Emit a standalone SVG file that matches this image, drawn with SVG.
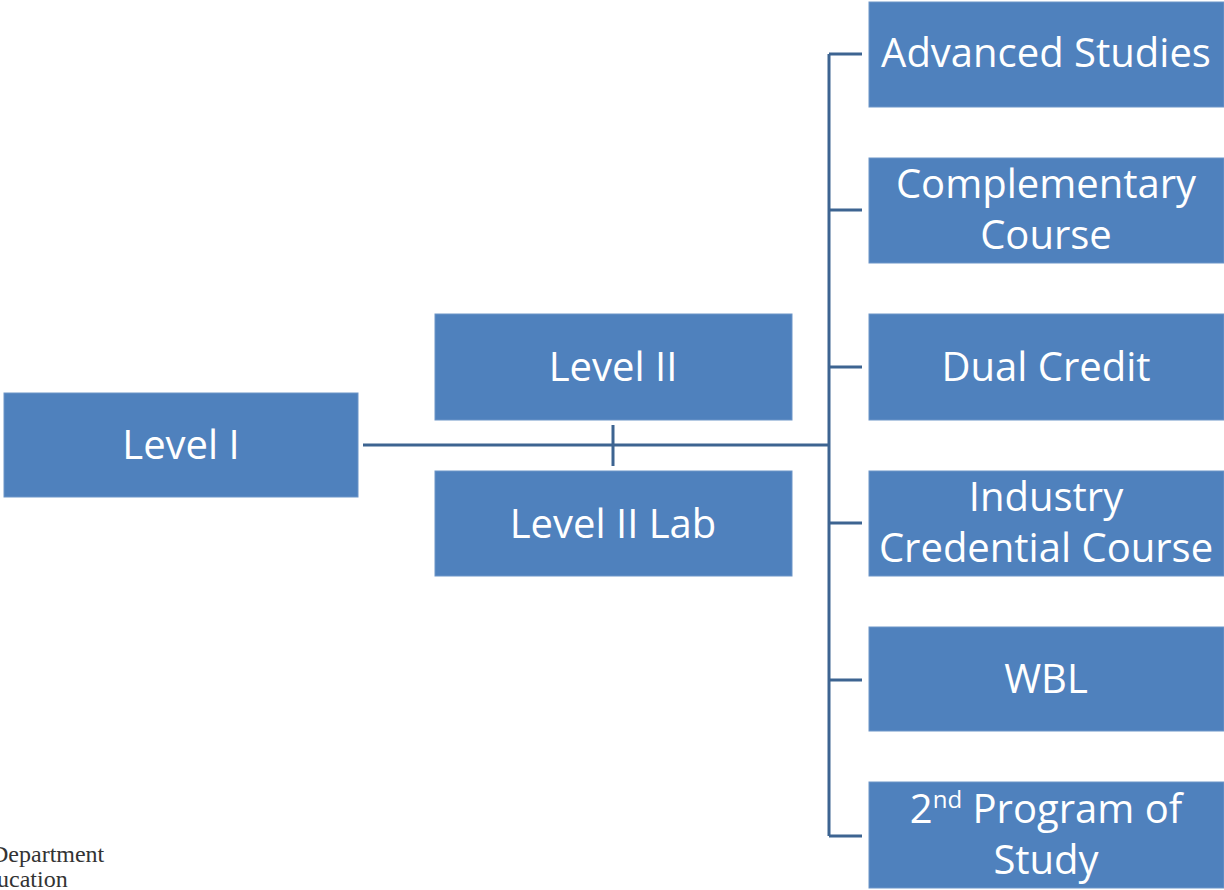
<svg xmlns="http://www.w3.org/2000/svg" width="1224" height="890" viewBox="0 0 1224 890">
<style>
.box{fill:#4f81bd;stroke:#6d95c8;stroke-width:1}
.t{font-family:"Open Sans","Liberation Sans",sans-serif;font-size:40px;fill:#ffffff;text-anchor:middle}
.c{stroke:#3d6491;stroke-width:3;fill:none}
.ft{font-family:"Liberation Serif",serif;font-size:24px;fill:#333333}
</style>
<rect width="1224" height="890" fill="#ffffff"/>
<g id="connectors">
<path class="c" d="M363 445H829M613 425V466M829 54V836M829 54H862M829 210H862M829 367H862M829 523H862M829 680H862M829 836H862"/>
</g>
<g id="level1"><rect class="box" x="4" y="393" width="354" height="104"/><text class="t" x="181" y="459">Level I</text></g>
<g id="level2"><rect class="box" x="435" y="314" width="357" height="106"/><text class="t" x="613" y="381">Level II</text></g>
<g id="level2lab"><rect class="box" x="435" y="471" width="357" height="105"/><text class="t" x="613" y="538">Level II Lab</text></g>
<g id="advanced"><rect class="box" x="869" y="2" width="355" height="105"/><text class="t" x="1046" y="67">Advanced Studies</text></g>
<g id="complementary"><rect class="box" x="869" y="158" width="355" height="105"/><text class="t" x="1046" y="198">Complementary</text><text class="t" x="1046" y="249">Course</text></g>
<g id="dual"><rect class="box" x="869" y="314" width="355" height="106"/><text class="t" x="1046" y="381">Dual Credit</text></g>
<g id="industry"><rect class="box" x="869" y="471" width="355" height="105"/><text class="t" x="1046" y="511">Industry</text><text class="t" x="1046" y="562">Credential Course</text></g>
<g id="wbl"><rect class="box" x="869" y="627" width="355" height="104"/><text class="t" x="1046" y="693">WBL</text></g>
<g id="second"><rect class="box" x="869" y="782" width="355" height="106"/><text class="t" x="1046" y="823">2<tspan font-size="24" dy="-15">nd</tspan><tspan dy="15"> Program of</tspan></text><text class="t" x="1046" y="874">Study</text></g>
<g id="footer"><text class="ft" x="-9" y="862">Department</text><text class="ft" x="-3" y="887">ucation</text></g>
</svg>
